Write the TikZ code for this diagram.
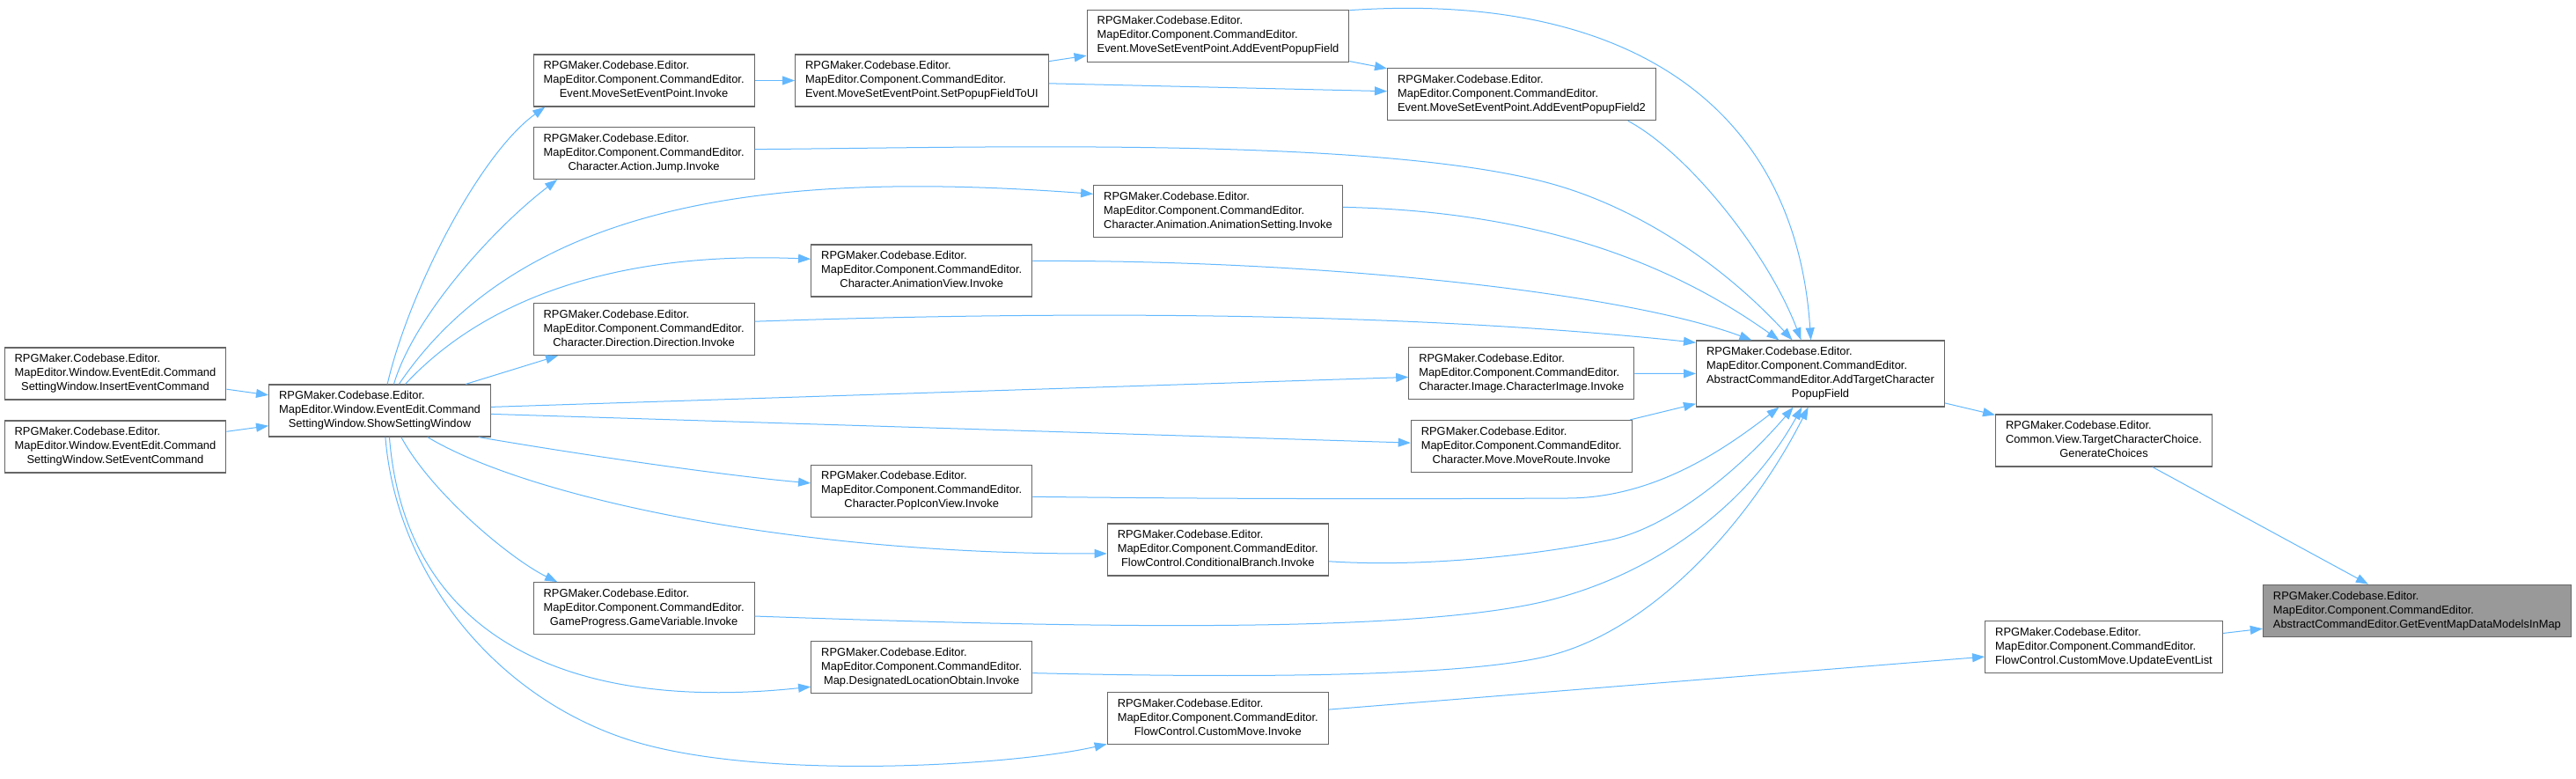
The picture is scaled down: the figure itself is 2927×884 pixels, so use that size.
\documentclass[tikz,border=0pt]{standalone}
\usepackage{fontspec}
\setmainfont{Liberation Sans}
\usepackage{tikz}
\usetikzlibrary{arrows.meta}

\definecolor{edgeblue}{HTML}{63B8FF}
\definecolor{nodeborder}{HTML}{666666}
\definecolor{focusfill}{HTML}{999999}

\newcommand{\lbl}[3]{\begin{tabular}{@{}l@{}}#1\\#2\\\multicolumn{1}{@{}c@{}}{#3}\end{tabular}}

\begin{document}
\begin{tikzpicture}[
  x=1pt, y=-1pt,
  fn/.style={draw=nodeborder, line width=1.2pt, fill=white, inner xsep=11.5pt,
             inner ysep=5.5pt, font=\fontsize{12.9}{16}\selectfont},
  call/.style={draw=edgeblue, line width=1pt, -{Triangle[length=14pt,width=10pt]}}
]
  \useasboundingbox (0,0) rectangle (2927,884);

  \node[fn] (insert) at (131,424.5)
    {\lbl{RPGMaker.Codebase.Editor.}{MapEditor.Window.EventEdit.Command}{SettingWindow.InsertEventCommand}};
  \node[fn] (setev) at (131,507.5)
    {\lbl{RPGMaker.Codebase.Editor.}{MapEditor.Window.EventEdit.Command}{SettingWindow.SetEventCommand}};
  \node[fn] (show) at (431.5,466.5)
    {\lbl{RPGMaker.Codebase.Editor.}{MapEditor.Window.EventEdit.Command}{SettingWindow.ShowSettingWindow}};

  \node[fn] (msepInv) at (731.6,91.5)
    {\lbl{RPGMaker.Codebase.Editor.}{MapEditor.Component.CommandEditor.}{Event.MoveSetEventPoint.Invoke}};
  \node[fn] (jump) at (731.6,174)
    {\lbl{RPGMaker.Codebase.Editor.}{MapEditor.Component.CommandEditor.}{Character.Action.Jump.Invoke}};
  \node[fn] (direction) at (731.6,374)
    {\lbl{RPGMaker.Codebase.Editor.}{MapEditor.Component.CommandEditor.}{Character.Direction.Direction.Invoke}};
  \node[fn] (gamevar) at (731.6,691.2)
    {\lbl{RPGMaker.Codebase.Editor.}{MapEditor.Component.CommandEditor.}{GameProgress.GameVariable.Invoke}};

  \node[fn] (setPopup) at (1047.4,91.5)
    {\lbl{RPGMaker.Codebase.Editor.}{MapEditor.Component.CommandEditor.}{Event.MoveSetEventPoint.SetPopupFieldToUI}};
  \node[fn] (animView) at (1047.2,307.5)
    {\lbl{RPGMaker.Codebase.Editor.}{MapEditor.Component.CommandEditor.}{Character.AnimationView.Invoke}};
  \node[fn] (popIcon) at (1047.2,557.7)
    {\lbl{RPGMaker.Codebase.Editor.}{MapEditor.Component.CommandEditor.}{Character.PopIconView.Invoke}};
  \node[fn] (designated) at (1047.2,758)
    {\lbl{RPGMaker.Codebase.Editor.}{MapEditor.Component.CommandEditor.}{Map.DesignatedLocationObtain.Invoke}};

  \node[fn] (addEvPF) at (1384,40.7)
    {\lbl{RPGMaker.Codebase.Editor.}{MapEditor.Component.CommandEditor.}{Event.MoveSetEventPoint.AddEventPopupField}};
  \node[fn] (animSetting) at (1384,240.3)
    {\lbl{RPGMaker.Codebase.Editor.}{MapEditor.Component.CommandEditor.}{Character.Animation.AnimationSetting.Invoke}};
  \node[fn] (condBranch) at (1383.8,624.5)
    {\lbl{RPGMaker.Codebase.Editor.}{MapEditor.Component.CommandEditor.}{FlowControl.ConditionalBranch.Invoke}};
  \node[fn] (customMoveInv) at (1383.8,816.2)
    {\lbl{RPGMaker.Codebase.Editor.}{MapEditor.Component.CommandEditor.}{FlowControl.CustomMove.Invoke}};

  \node[fn] (addEvPF2) at (1729,107.2)
    {\lbl{RPGMaker.Codebase.Editor.}{MapEditor.Component.CommandEditor.}{Event.MoveSetEventPoint.AddEventPopupField2}};
  \node[fn] (charImage) at (1728.8,424.3)
    {\lbl{RPGMaker.Codebase.Editor.}{MapEditor.Component.CommandEditor.}{Character.Image.CharacterImage.Invoke}};
  \node[fn] (moveRoute) at (1728.8,507)
    {\lbl{RPGMaker.Codebase.Editor.}{MapEditor.Component.CommandEditor.}{Character.Move.MoveRoute.Invoke}};

  \node[fn] (addTarget) at (2068.5,424.5)
    {\begin{tabular}{@{}l@{}}RPGMaker.Codebase.Editor.\\MapEditor.Component.CommandEditor.\\
     AbstractCommandEditor.AddTargetCharacter\\\multicolumn{1}{@{}c@{}}{PopupField}\end{tabular}};

  \node[fn] (genChoices) at (2390.5,500.5)
    {\lbl{RPGMaker.Codebase.Editor.}{Common.View.TargetCharacterChoice.}{GenerateChoices}};
  \node[fn] (updateEvList) at (2390.5,735.2)
    {\lbl{RPGMaker.Codebase.Editor.}{MapEditor.Component.CommandEditor.}{FlowControl.CustomMove.UpdateEventList}};

  \node[fn, fill=focusfill] (getEventMap) at (2746.4,693.8)
    {\lbl{RPGMaker.Codebase.Editor.}{MapEditor.Component.CommandEditor.}{AbstractCommandEditor.GetEventMapDataModelsInMap}};

  \draw[call] (insert) -- (show);
  \draw[call] (setev) -- (show);

  \draw[call] (show.74) .. controls (465,330) and (545,175) .. (msepInv.195);
  \draw[call] (show.62) .. controls (470,360) and (560,260) .. (jump.197);
  \draw[call] (show.54) .. controls (600,220) and (900,195) .. (animSetting.172);
  \draw[call] (show.46) .. controls (550,340) and (700,285) .. (animView.174);
  \draw[call] (show) -- (direction);
  \draw[call] (show) -- (charImage);
  \draw[call] (show) -- (moveRoute);
  \draw[call] (show.-15) .. controls (650,515) and (820,540) .. (popIcon.176);
  \draw[call] (show.-29) .. controls (600,565) and (900,630) .. (condBranch.182);
  \draw[call] (show.-51) .. controls (490,560) and (580,635) .. (gamevar.163);
  \draw[call] (show.-70) .. controls (460,720) and (640,810) .. (designated.190);
  \draw[call] (show.-78) .. controls (450,650) and (560,790) .. (713,840)
    .. controls (860,888) and (1150,870) .. (customMoveInv.193);

  \draw[call] (msepInv) -- (setPopup);
  \draw[call] (setPopup) -- (addEvPF);
  \draw[call] (setPopup) -- (addEvPF2);
  \draw[call] (addEvPF) -- (addEvPF2);

  \draw[call] (addEvPF.11) .. controls (1850,-10) and (2040,120) .. (addTarget.106);
  \draw[call] (addEvPF2.-14) .. controls (1920,175) and (2010,290) .. (addTarget.120);
  \draw[call] (jump.2) .. controls (1100,168) and (1560,154) .. (1760,208)
    .. controls (1860,235) and (1957,300) .. (addTarget.130);
  \draw[call] (animSetting.2) .. controls (1750,240) and (1900,300) .. (addTarget.141);
  \draw[call] (animView.5) .. controls (1500,295) and (1843,332) .. (addTarget.154);
  \draw[call] (direction.4) .. controls (1300,350) and (1650,360) .. (addTarget.166);
  \draw[call] (charImage) -- (addTarget);
  \draw[call] (moveRoute) -- (addTarget);
  \draw[call] (popIcon.-3) .. controls (1400,567) and (1600,567) .. (1780,566)
    .. controls (1880,566) and (1960,510) .. (addTarget.-141);
  \draw[call] (condBranch.-6) .. controls (1620,645) and (1750,630) .. (1831,613)
    .. controls (1900,598) and (1980,530) .. (addTarget.-129);
  \draw[call] (gamevar.-4) .. controls (1200,712) and (1600,722) .. (1760,682)
    .. controls (1880,652) and (1985,575) .. (addTarget.-119);
  \draw[call] (designated.-3) .. controls (1400,770) and (1660,770) .. (1760,745)
    .. controls (1880,715) and (1990,590) .. (addTarget.-110);

  \draw[call] (customMoveInv) -- (updateEvList);
  \draw[call] (addTarget) -- (genChoices);
  \draw[call] (genChoices) -- (getEventMap);
  \draw[call] (updateEvList) -- (getEventMap);
\end{tikzpicture}
\end{document}
